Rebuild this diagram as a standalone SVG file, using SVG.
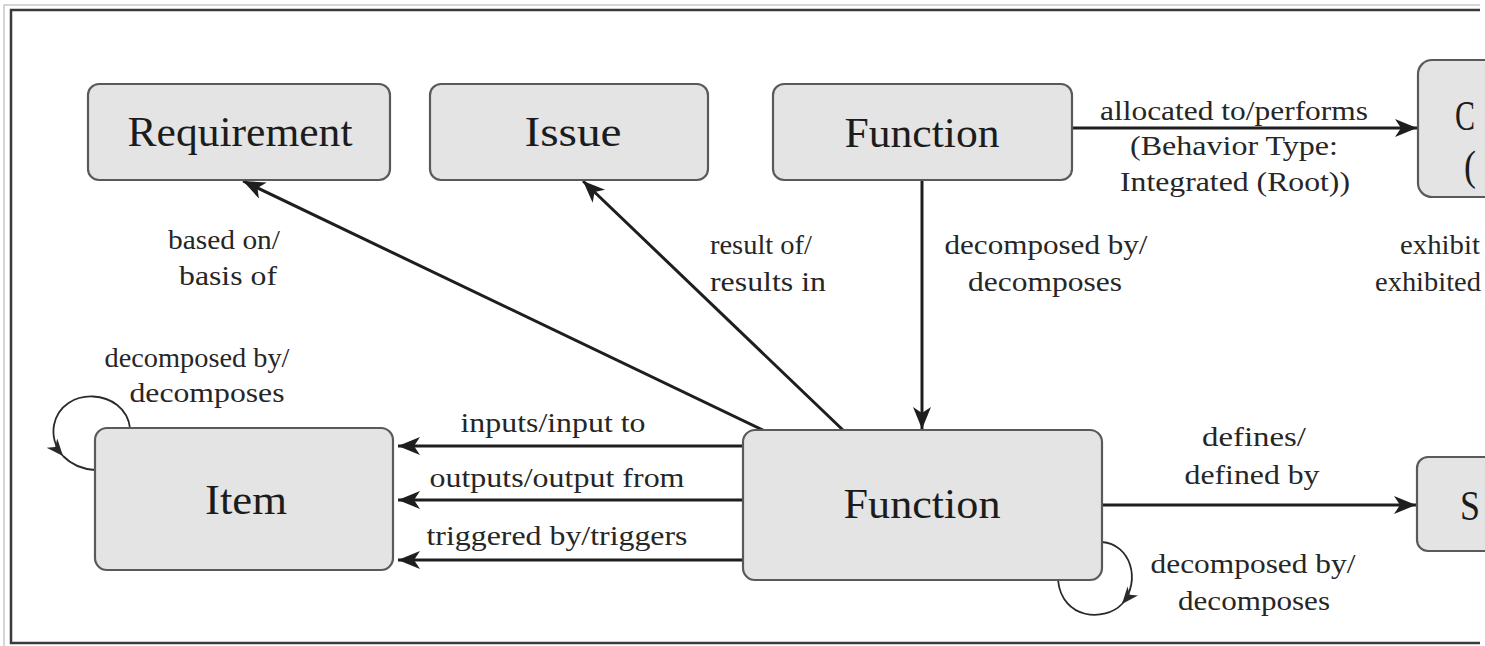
<svg xmlns="http://www.w3.org/2000/svg" width="1485" height="646" viewBox="0 0 1485 646">
  <style>
    .box { fill: #e4e4e4; stroke: #5a5a5a; stroke-width: 2.2; }
    .ntext { font-family: "Liberation Serif", "DejaVu Serif", "Times New Roman", serif; font-size: 42px; fill: #1c1c1c; text-anchor: middle; }
    .ltext { font-family: "Liberation Serif", "DejaVu Serif", "Times New Roman", serif; font-size: 27px; fill: #262626; text-anchor: middle; }
    .edge { fill: none; stroke: #1e1e1e; stroke-width: 3; }
    .loop { fill: none; stroke: #2a2a2a; stroke-width: 1.8; }
  </style>
  <defs>
    <marker id="arrow" markerUnits="userSpaceOnUse" markerWidth="24" markerHeight="20" refX="22" refY="9" orient="auto">
      <path d="M0,0 L22,9 L0,18 L6,9 z" fill="#1e1e1e"/>
    </marker>
    <marker id="arrowSmall" markerUnits="userSpaceOnUse" markerWidth="20" markerHeight="16" refX="17" refY="7" orient="auto">
      <path d="M0,0 L17,7 L0,14 L5,7 z" fill="#2a2a2a"/>
    </marker>
  </defs>

  <rect width="1485" height="646" fill="#ffffff"/>

  <!-- page frame -->
  <g id="frame">
    <path d="M4,646 V5 H1480" fill="none" stroke="#c8c8c8" stroke-width="1.5"/>
    <path d="M1480,10 H11 V643 H1480" fill="none" stroke="#3a3a3a" stroke-width="2.5"/>
  </g>

  <!-- connectors -->
  <g id="connectors">
    <line class="edge" x1="1072" y1="128" x2="1417" y2="128" marker-end="url(#arrow)"/>
    <line class="edge" x1="922" y1="180" x2="922" y2="429" marker-end="url(#arrow)"/>
    <line class="edge" x1="767" y1="432" x2="243" y2="181" marker-end="url(#arrow)"/>
    <line class="edge" x1="845" y1="432" x2="583" y2="181" marker-end="url(#arrow)"/>
    <line class="edge" x1="743" y1="446" x2="398" y2="446" marker-end="url(#arrow)"/>
    <line class="edge" x1="743" y1="500" x2="398" y2="500" marker-end="url(#arrow)"/>
    <line class="edge" x1="743" y1="560" x2="398" y2="560" marker-end="url(#arrow)"/>
    <line class="edge" x1="1102" y1="505" x2="1416" y2="505" marker-end="url(#arrow)"/>

    <!-- self loop on Item -->
    <path class="loop" d="M130,428 C125,388 62,385 54,425 C52,436.5 55.5,447.25 63,456" marker-end="url(#arrowSmall)"/>
    <path class="loop" d="M63,456 C70.25,463.5 81.5,469 95,470"/>
    <!-- self loop on lower Function -->
    <path class="loop" d="M1102,542 C1130,544 1142,580 1122,604" marker-end="url(#arrowSmall)"/>
    <path class="loop" d="M1122,604 C1105,622 1062,620 1058,580"/>

    <!-- connector labels -->
    <text class="ltext" x="1234" y="120" textLength="268" lengthAdjust="spacingAndGlyphs">allocated to/performs</text>
    <text class="ltext" x="1234" y="155" textLength="208" lengthAdjust="spacingAndGlyphs">(Behavior Type:</text>
    <text class="ltext" x="1235" y="191" textLength="230" lengthAdjust="spacingAndGlyphs">Integrated (Root))</text>

    <text class="ltext" x="1046" y="254" textLength="203" lengthAdjust="spacingAndGlyphs">decomposed by/</text>
    <text class="ltext" x="1045" y="291" textLength="154" lengthAdjust="spacingAndGlyphs">decomposes</text>

    <text class="ltext" x="224" y="249" textLength="112" lengthAdjust="spacingAndGlyphs">based on/</text>
    <text class="ltext" x="228" y="285" textLength="98" lengthAdjust="spacingAndGlyphs">basis of</text>

    <text class="ltext" x="761" y="254" textLength="102" lengthAdjust="spacingAndGlyphs">result of/</text>
    <text class="ltext" x="768" y="291" textLength="116" lengthAdjust="spacingAndGlyphs">results in</text>

    <text class="ltext" x="1400" y="254" style="text-anchor:start" textLength="80" lengthAdjust="spacingAndGlyphs">exhibit</text>
    <text class="ltext" x="1375" y="291" style="text-anchor:start" textLength="106" lengthAdjust="spacingAndGlyphs">exhibited</text>

    <text class="ltext" x="197" y="367" textLength="185" lengthAdjust="spacingAndGlyphs">decomposed by/</text>
    <text class="ltext" x="207" y="402" textLength="155" lengthAdjust="spacingAndGlyphs">decomposes</text>

    <text class="ltext" x="553" y="432" textLength="185" lengthAdjust="spacingAndGlyphs">inputs/input to</text>
    <text class="ltext" x="557" y="487" textLength="255" lengthAdjust="spacingAndGlyphs">outputs/output from</text>
    <text class="ltext" x="557" y="545" textLength="261" lengthAdjust="spacingAndGlyphs">triggered by/triggers</text>

    <text class="ltext" x="1254" y="446" textLength="104" lengthAdjust="spacingAndGlyphs">defines/</text>
    <text class="ltext" x="1252" y="484" textLength="135" lengthAdjust="spacingAndGlyphs">defined by</text>

    <text class="ltext" x="1253" y="573" textLength="205" lengthAdjust="spacingAndGlyphs">decomposed by/</text>
    <text class="ltext" x="1254" y="610" textLength="152" lengthAdjust="spacingAndGlyphs">decomposes</text>
  </g>

  <!-- nodes -->
  <g id="node-requirement">
    <rect class="box" x="88" y="84" width="302" height="96" rx="11"/>
    <text class="ntext" x="240" y="146" textLength="225" lengthAdjust="spacingAndGlyphs">Requirement</text>
  </g>
  <g id="node-issue">
    <rect class="box" x="430" y="84" width="278" height="96" rx="11"/>
    <text class="ntext" x="573" y="146" textLength="97" lengthAdjust="spacingAndGlyphs">Issue</text>
  </g>
  <g id="node-function-upper">
    <rect class="box" x="773" y="84" width="299" height="96" rx="11"/>
    <text class="ntext" x="922" y="147" textLength="155" lengthAdjust="spacingAndGlyphs">Function</text>
  </g>
  <g id="node-c">
    <rect class="box" x="1418" y="60" width="120" height="137" rx="14"/>
    <text class="ntext" x="1455" y="130" style="text-anchor:start" textLength="20" lengthAdjust="spacingAndGlyphs">C</text>
    <text class="ntext" x="1464" y="180" style="text-anchor:start" textLength="12" lengthAdjust="spacingAndGlyphs">(</text>
  </g>
  <g id="node-item">
    <rect class="box" x="95" y="428" width="298" height="142" rx="12"/>
    <text class="ntext" x="246" y="514" textLength="82" lengthAdjust="spacingAndGlyphs">Item</text>
  </g>
  <g id="node-function-lower">
    <rect class="box" x="743" y="430" width="359" height="150" rx="12"/>
    <text class="ntext" x="922" y="518" textLength="157" lengthAdjust="spacingAndGlyphs">Function</text>
  </g>
  <g id="node-s">
    <rect class="box" x="1417" y="457" width="120" height="94" rx="11"/>
    <text class="ntext" x="1460" y="520" style="text-anchor:start" textLength="20" lengthAdjust="spacingAndGlyphs">S</text>
  </g>
</svg>
